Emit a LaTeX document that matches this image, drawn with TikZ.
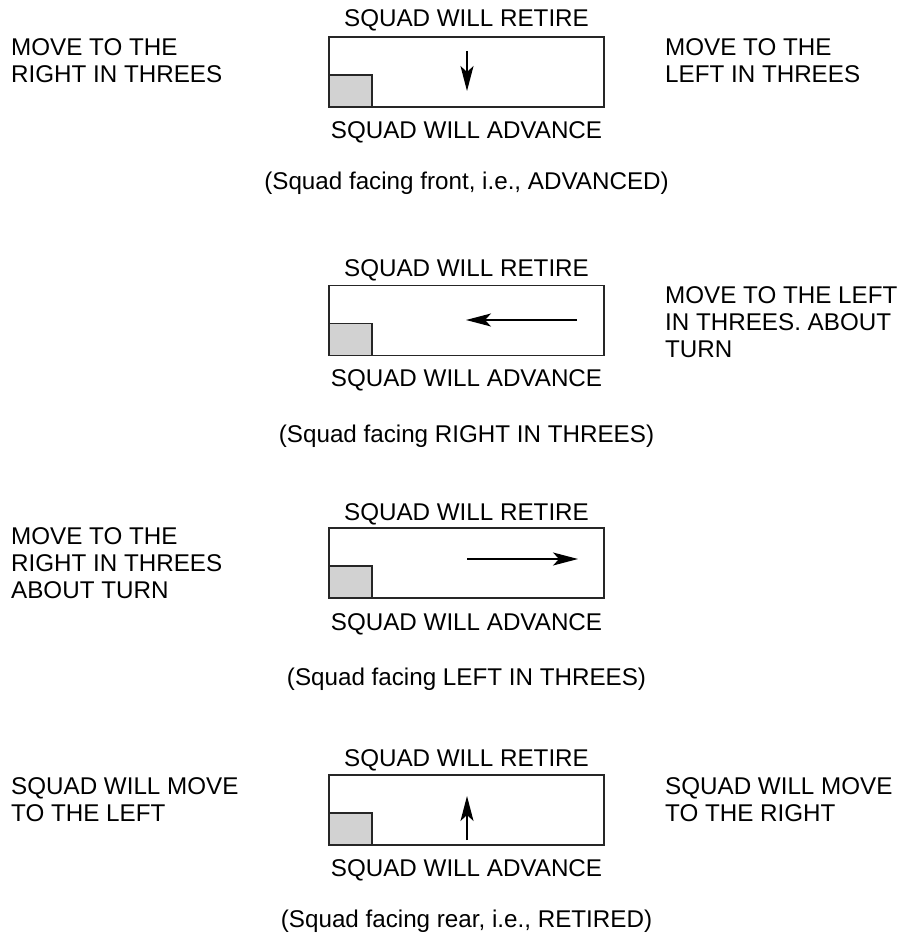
\documentclass[tikz,border=0pt]{standalone}
\usepackage{fontspec}
\setmainfont{Liberation Sans}
\usetikzlibrary{arrows.meta}

\begin{document}
\begin{tikzpicture}[x=1pt, y=-1pt,
    every node/.style={font=\fontsize{24.2}{27}\selectfont, inner sep=0pt},
    squadbox/.style={draw=black!85, line width=1.5pt, minimum width=275pt, minimum height=70pt},
    rank/.style={draw=black!85, fill=gray!35, line width=1.5pt, minimum width=43pt, minimum height=32pt, anchor=south west},
    note/.style={align=left, anchor=west},
    caption/.style={anchor=base},
    facing/.style={line width=1.4pt, -{Stealth[length=25pt, width=13pt, inset=6pt]}}]
    \useasboundingbox (0,0) rectangle (897,933);

    % Squad facing front
    \node[squadbox] (box1) at (466.5,72) {};
    \node[rank] (rank1) at (box1.south west) {};
    \node[caption] (retire1) at (466.5,26.4) {SQUAD WILL RETIRE};
    \node[caption] (advance1) at (466.5,138.4) {SQUAD WILL ADVANCE};
    \node[caption] (cap1) at (466.5,189.5) {(Squad facing front, i.e., ADVANCED)};
    \node[note] (left1) at (11,61) {MOVE TO THE\\RIGHT IN THREES};
    \node[note] (right1) at (665,61) {MOVE TO THE\\LEFT IN THREES};
    \coordinate (from1) at (467,51);
    \coordinate (to1) at (467,91);
    \draw[facing] (from1) -- (to1);

    % Squad facing right in threes
    \node[squadbox] (box2) at (466.5,320.5) {};
    \node[rank] (rank2) at (box2.south west) {};
    \node[caption] (retire2) at (466.5,276.4) {SQUAD WILL RETIRE};
    \node[caption] (advance2) at (466.5,386.4) {SQUAD WILL ADVANCE};
    \node[caption] (cap2) at (466.5,442) {(Squad facing RIGHT IN THREES)};
    \node[note] (right2) at (665,322.5) {MOVE TO THE LEFT\\IN THREES. ABOUT\\TURN};
    \coordinate (from2) at (577,320);
    \coordinate (to2) at (466,320);
    \draw[facing] (from2) -- (to2);

    % Squad facing left in threes
    \node[squadbox] (box3) at (466.5,563) {};
    \node[rank] (rank3) at (box3.south west) {};
    \node[caption] (retire3) at (466.5,520.4) {SQUAD WILL RETIRE};
    \node[caption] (advance3) at (466.5,630.4) {SQUAD WILL ADVANCE};
    \node[caption] (cap3) at (466.5,685.5) {(Squad facing LEFT IN THREES)};
    \node[note] (left3) at (11,563) {MOVE TO THE\\RIGHT IN THREES\\ABOUT TURN};
    \coordinate (from3) at (467,559);
    \coordinate (to3) at (578,559);
    \draw[facing] (from3) -- (to3);

    % Squad facing rear
    \node[squadbox] (box4) at (466.5,810) {};
    \node[rank] (rank4) at (box4.south west) {};
    \node[caption] (retire4) at (466.5,766.4) {SQUAD WILL RETIRE};
    \node[caption] (advance4) at (466.5,876.4) {SQUAD WILL ADVANCE};
    \node[caption] (cap4) at (466.5,927) {(Squad facing rear, i.e., RETIRED)};
    \node[note] (left4) at (11,799.5) {SQUAD WILL MOVE\\TO THE LEFT};
    \node[note] (right4) at (665,799.5) {SQUAD WILL MOVE\\TO THE RIGHT};
    \coordinate (from4) at (467,840);
    \coordinate (to4) at (467,796);
    \draw[facing] (from4) -- (to4);
\end{tikzpicture}
\end{document}
